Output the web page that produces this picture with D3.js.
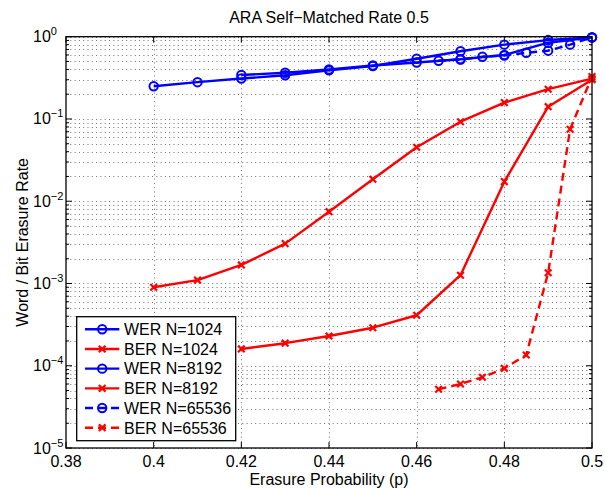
<!DOCTYPE html>
<html>
<head>
<meta charset="utf-8">
<script src="https://cdn.jsdelivr.net/npm/d3@7"></script>
<style>
  html, body { margin: 0; padding: 0; background: #fff; }
  svg { display: block; font-family: "Liberation Sans", Arial, Helvetica, sans-serif; }
</style>
</head>
<body>
<svg id="chart" width="605" height="489"></svg>
<script>
// Erasure probabilities per block length
const p1024  = [0.40, 0.41, 0.42, 0.43, 0.44, 0.45, 0.46, 0.47, 0.48, 0.49, 0.50];
const p8192  = [0.42, 0.43, 0.44, 0.45, 0.46, 0.47, 0.48, 0.49, 0.50];
const p65536 = [0.465, 0.47, 0.475, 0.48, 0.485, 0.49, 0.495, 0.50];

// Word erasure rates
const wer1024  = [0.25, 0.28, 0.31, 0.34, 0.39, 0.44, 0.54, 0.665, 0.80, 0.91, 0.98];
const wer8192  = [0.342, 0.365, 0.40, 0.447, 0.486, 0.531, 0.60, 0.845, 0.98];
const wer65536 = [0.51, 0.528, 0.571, 0.59, 0.639, 0.676, 0.80, 0.98];

// Bit erasure rates
const ber1024  = [9.0e-4, 1.10e-3, 1.68e-3, 3.05e-3, 7.46e-3, 0.0185, 0.0453, 0.0926, 0.158, 0.23, 0.309];
const ber8192  = [1.6e-4, 1.88e-4, 2.30e-4, 2.9e-4, 4.11e-4, 1.26e-3, 0.0173, 0.141, 0.30];
const ber65536 = [5.18e-5, 6.0e-5, 7.24e-5, 9.3e-5, 1.35e-4, 1.35e-3, 0.0749, 0.327];

// Axis ticks and text
const xTicks = [0.38, 0.40, 0.42, 0.44, 0.46, 0.48, 0.50];
const xTickLabels = ["0.38", "0.4", "0.42", "0.44", "0.46", "0.48", "0.5"];
const yExponents = [0, -1, -2, -3, -4, -5];
const seriesNames = ["WER N=1024", "BER N=1024", "WER N=8192", "BER N=8192", "WER N=65536", "BER N=65536"];
const titleText = "ARA Self\u2212Matched Rate 0.5";
const xLabelText = "Erasure Probability (p)";
const yLabelText = "Word / Bit Erasure Rate";

const series = [
  { name: seriesNames[0], p: p1024,  v: wer1024,  color: "#0000ff", marker: "o", dashed: false },
  { name: seriesNames[1], p: p1024,  v: ber1024,  color: "#ff0000", marker: "x", dashed: false },
  { name: seriesNames[2], p: p8192,  v: wer8192,  color: "#0000ff", marker: "o", dashed: false },
  { name: seriesNames[3], p: p8192,  v: ber8192,  color: "#ff0000", marker: "x", dashed: false },
  { name: seriesNames[4], p: p65536, v: wer65536, color: "#0000ff", marker: "o", dashed: true },
  { name: seriesNames[5], p: p65536, v: ber65536, color: "#ff0000", marker: "x", dashed: true }
];

const L = 66, R = 592, T = 36.7, B = 448;
const svg = d3.select("#chart");

const x = d3.scaleLinear().domain([0.38, 0.50]).range([L, R]);
const y = d3.scaleLog().domain([1e-5, 1]).range([B, T]);

// Minor log positions (2..9 of each decade)
const minorVals = [];
for (let e = -5; e < 0; e++) {
  for (let k = 2; k <= 9; k++) minorVals.push(k * Math.pow(10, e));
}
const majorVals = yExponents.map(e => Math.pow(10, e));

// Dotted grid
const grid = svg.append("g").attr("stroke", "#707070").attr("stroke-width", 1)
  .attr("stroke-dasharray", "1,3.3").attr("fill", "none");
grid.selectAll("line.h").data(majorVals.concat(minorVals)).join("line")
  .attr("x1", L).attr("x2", R)
  .attr("y1", d => Math.round(y(d)) + 0.5).attr("y2", d => Math.round(y(d)) + 0.5);
grid.selectAll("line.v").data(xTicks.slice(1, -1)).join("line")
  .attr("y1", T).attr("y2", B)
  .attr("x1", d => Math.round(x(d)) + 0.5).attr("x2", d => Math.round(x(d)) + 0.5);

// Tick marks on all four sides (inward)
const ticks = svg.append("g").attr("stroke", "#000").attr("stroke-width", 1);
ticks.selectAll("line.bt").data(xTicks).join("line")
  .attr("x1", d => x(d)).attr("x2", d => x(d)).attr("y1", B).attr("y2", B - 6);
ticks.selectAll("line.tt").data(xTicks).join("line")
  .attr("x1", d => x(d)).attr("x2", d => x(d)).attr("y1", T).attr("y2", T + 6);
ticks.selectAll("line.lM").data(majorVals).join("line")
  .attr("x1", L).attr("x2", L + 6).attr("y1", d => y(d)).attr("y2", d => y(d));
ticks.selectAll("line.rM").data(majorVals).join("line")
  .attr("x1", R).attr("x2", R - 6).attr("y1", d => y(d)).attr("y2", d => y(d));
ticks.selectAll("line.lm").data(minorVals).join("line")
  .attr("x1", L).attr("x2", L + 3).attr("y1", d => y(d)).attr("y2", d => y(d));
ticks.selectAll("line.rm").data(minorVals).join("line")
  .attr("x1", R).attr("x2", R - 3).attr("y1", d => y(d)).attr("y2", d => y(d));

// Curves
const lineGen = d3.line().x(d => x(d[0])).y(d => y(d[1]));
const plot = svg.append("g");

function drawMarker(g, kind, cx, cy, color) {
  if (kind === "o") {
    g.append("circle").attr("cx", cx).attr("cy", cy).attr("r", 4.2)
      .attr("fill", "none").attr("stroke", color).attr("stroke-width", 2);
  } else {
    const s = 3.3;
    g.append("path")
      .attr("d", `M${cx - s},${cy - s}L${cx + s},${cy + s}M${cx - s},${cy + s}L${cx + s},${cy - s}`)
      .attr("stroke", color).attr("stroke-width", 2.2).attr("fill", "none");
  }
}

series.forEach(s => {
  const pts = s.p.map((p, i) => [p, s.v[i]]);
  const g = plot.append("g");
  g.append("path").attr("d", lineGen(pts))
    .attr("fill", "none").attr("stroke", s.color).attr("stroke-width", 2.4)
    .attr("stroke-linejoin", "round")
    .attr("stroke-dasharray", s.dashed ? "8,5" : null);
  pts.forEach(d => drawMarker(g, s.marker, x(d[0]), y(d[1]), s.color));
});

// Axes box
svg.append("rect").attr("x", L).attr("y", T).attr("width", R - L).attr("height", B - T)
  .attr("fill", "none").attr("stroke", "#000").attr("stroke-width", 1.3);

// X tick labels
svg.append("g").selectAll("text").data(xTicks).join("text")
  .attr("x", d => x(d)).attr("y", 467)
  .attr("text-anchor", "middle").attr("font-size", 16).attr("fill", "#000")
  .text((d, i) => xTickLabels[i]);

// Y tick labels: 10 with superscript exponent
const yl = svg.append("g").selectAll("text").data(yExponents).join("text")
  .attr("x", 33).attr("y", e => y(Math.pow(10, e)) + 5.5)
  .attr("font-size", 16).attr("fill", "#000");
yl.append("tspan").text("10");
yl.append("tspan").attr("dy", -7).attr("font-size", 11)
  .text(e => e === 0 ? "0" : "\u2212" + Math.abs(e));

// Title and axis labels
svg.append("text").attr("x", (L + R) / 2).attr("y", 23)
  .attr("text-anchor", "middle").attr("font-size", 16).text(titleText);
svg.append("text").attr("x", (L + R) / 2).attr("y", 485)
  .attr("text-anchor", "middle").attr("font-size", 16).text(xLabelText);
svg.append("text").attr("transform", `translate(27.5,${(T + B) / 2}) rotate(-90)`)
  .attr("text-anchor", "middle").attr("font-size", 16).text(yLabelText);

// Legend
const lg = svg.append("g");
const lgX = 76.7, lgY = 316.7, lgW = 159, lgH = 124;
lg.append("rect").attr("x", lgX).attr("y", lgY).attr("width", lgW).attr("height", lgH)
  .attr("fill", "#fff").attr("stroke", "#000").attr("stroke-width", 1.3);
series.forEach((s, i) => {
  const cy = 329.3 + i * 19.68;
  lg.append("line").attr("x1", 85).attr("x2", 119.3).attr("y1", cy).attr("y2", cy)
    .attr("stroke", s.color).attr("stroke-width", 2.4)
    .attr("stroke-dasharray", s.dashed ? "8,5" : null);
  drawMarker(lg, s.marker, 102.2, cy, s.color);
  lg.append("text").attr("x", 124).attr("y", cy + 5.8)
    .attr("font-size", 16).attr("fill", "#000").text(s.name);
});
</script>
</body>
</html>
